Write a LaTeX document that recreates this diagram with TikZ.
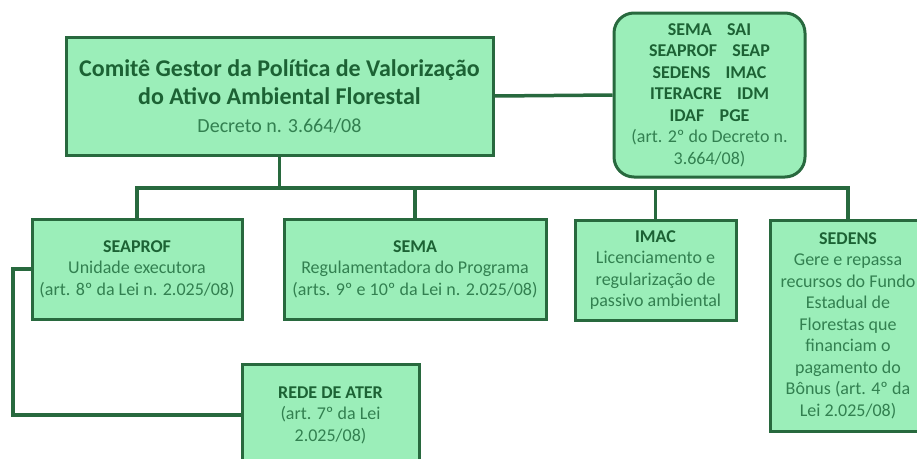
\documentclass[tikz,border=0pt]{standalone}
\usepackage{fontspec}
\setmainfont{Carlito}
\usetikzlibrary{positioning}
\definecolor{verdeclaro}{RGB}{155,238,185}
\definecolor{verdeborda}{RGB}{40,105,62}
\definecolor{verdetexto}{RGB}{28,98,52}
\definecolor{verdefino}{RGB}{50,128,80}
\newcommand{\sigla}[1]{\textcolor{verdetexto}{\bfseries #1}}

\begin{document}
\begin{tikzpicture}[x=1pt,y=-1pt,
  caixa/.style={rectangle,draw=verdeborda,line width=3pt,fill=verdeclaro,align=center,inner sep=0pt,text=verdefino,font=\fontsize{18}{21.5}\selectfont},
  membrosbox/.style={caixa,rounded corners=20pt},
  link/.style={draw=verdeborda,line width=3.5pt}]
\useasboundingbox (0,0) rectangle (917,458);

\node[caixa,minimum width=427pt,minimum height=118pt,font=\fontsize{24}{28}\selectfont] (comite) at (279.5,96)
  {\sigla{Comitê Gestor da Política de Valorização}\\ \sigla{do Ativo Ambiental Florestal}\\ {\fontsize{20}{28}\selectfont Decreto n. 3.664/08}};
\node[membrosbox,minimum width=191pt,minimum height=164pt] (membros) at (709.5,95)
  {\sigla{SEMA\hspace{0.85em}SAI}\\ \sigla{SEAPROF\hspace{0.85em}SEAP}\\ \sigla{SEDENS\hspace{0.85em}IMAC}\\ \sigla{ITERACRE\hspace{0.85em}IDM}\\ \sigla{IDAF\hspace{0.85em}PGE}\\ (art. 2º do Decreto n.\\ 3.664/08)};

\node[caixa,minimum width=210pt,minimum height=100pt] (seaprof) at (137,269)
  {\sigla{SEAPROF}\\ Unidade executora\\ (art. 8º da Lei n. 2.025/08)};
\node[caixa,minimum width=262pt,minimum height=100pt] (sema) at (415,269)
  {\sigla{SEMA}\\ Regulamentadora do Programa\\ (arts. 9º e 10º da Lei n. 2.025/08)};
\node[caixa,minimum width=161pt,minimum height=100pt] (imac) at (655.5,270)
  {\sigla{IMAC}\\ Licenciamento e\\ regularização de\\ passivo ambiental};
\node[caixa,minimum width=156pt,minimum height=211pt] (sedens) at (848,325.5)
  {\sigla{SEDENS}\\ Gere e repassa\\ recursos do Fundo\\ Estadual de\\ Florestas que\\ financiam o\\ pagamento do\\ Bônus (art. 4º da\\ Lei 2.025/08)};
\node[caixa,minimum width=177pt,minimum height=102pt] (rede) at (330.5,415)
  {\sigla{REDE DE ATER}\\ (art. 7º da Lei\\ 2.025/08)};

% ligacoes
\coordinate (barra) at (280,188);
\coordinate (esquerda) at (13,0);
\draw[link] (comite.east) -- (membros.west);
\draw[link] (comite.south) |- (seaprof.north |- barra) -- (seaprof.north);
\draw[link] (comite.south) |- (sedens.north |- barra) -- (sedens.north);
\draw[link] (sema.north |- barra) -- (sema.north);
\draw[link] (imac.north |- barra) -- (imac.north);
\draw[link] (seaprof.west) -- (seaprof.west -| esquerda) |- (rede.west);

\end{tikzpicture}
\end{document}
